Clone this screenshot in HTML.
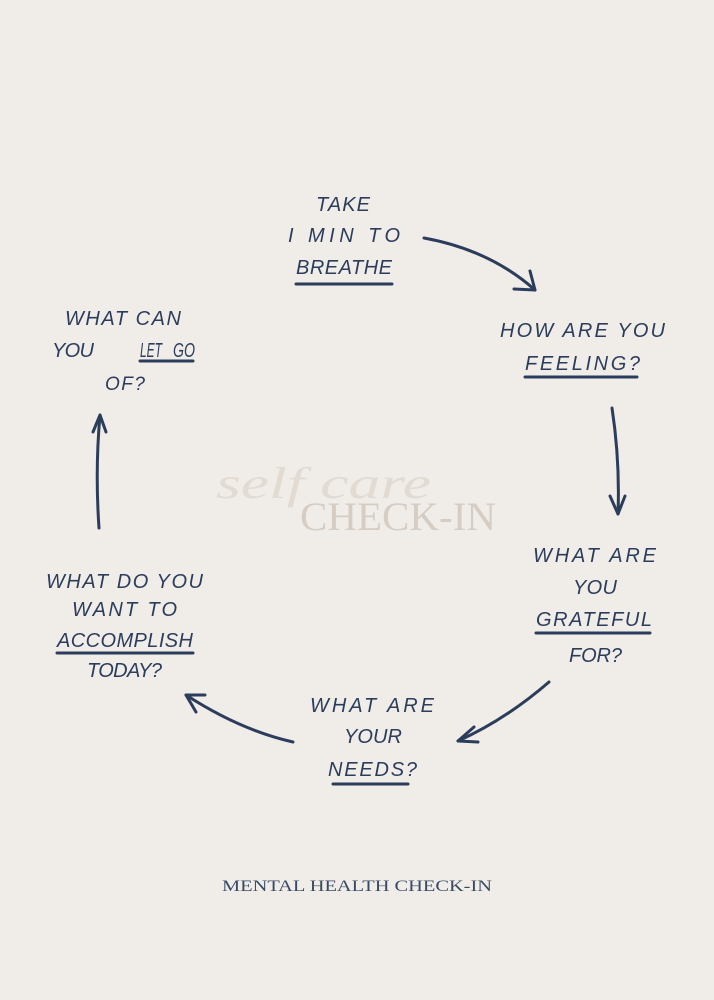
<!DOCTYPE html>
<html><head><meta charset="utf-8"><style>
html,body{margin:0;padding:0;background:#f0ede8;}
svg{display:block}
.t{font-family:"Liberation Sans",sans-serif;font-size:20px;fill:#2c3d5c;font-style:italic;}
</style></head><body>
<svg width="714" height="1000" viewBox="0 0 714 1000" xmlns="http://www.w3.org/2000/svg">
<rect width="714" height="1000" fill="#f0ede8"/>
<text x="216" y="498" font-family="Liberation Serif,serif" font-style="italic" font-size="44" fill="#e2dbd3" textLength="215" lengthAdjust="spacingAndGlyphs">self care</text>
<text x="300" y="530" font-family="Liberation Serif,serif" font-size="40" fill="#d5cdc4" textLength="196" lengthAdjust="spacingAndGlyphs">CHECK-IN</text>
<g class="t">
<text x="316" y="211" textLength="54">TAKE</text>
<text x="288" y="242" textLength="112">I MIN TO</text>
<text x="296" y="274" textLength="96">BREATHE</text>
<text x="500" y="337" textLength="165">HOW ARE YOU</text>
<text x="525" y="370" textLength="115">FEELING?</text>
<text x="533" y="562" textLength="123">WHAT ARE</text>
<text x="573" y="594" textLength="44">YOU</text>
<text x="536" y="626" textLength="116">GRATEFUL</text>
<text x="569" y="662" textLength="53">FOR?</text>
<text x="310" y="712" textLength="124">WHAT ARE</text>
<text x="344" y="743" textLength="58">YOUR</text>
<text x="328" y="776" textLength="89">NEEDS?</text>
<text x="46" y="588" textLength="157">WHAT DO YOU</text>
<text x="72" y="616" textLength="105">WANT TO</text>
<text x="57" y="647" textLength="136">ACCOMPLISH</text>
<text x="87" y="677" textLength="75">TODAY?</text>
<text x="65" y="325" textLength="116">WHAT CAN</text>
<text x="52" y="357" textLength="42">YOU</text>
<text x="140" y="357" textLength="22" lengthAdjust="spacingAndGlyphs">LET</text>
<text x="173" y="357" textLength="22" lengthAdjust="spacingAndGlyphs">GO</text>
<text x="105" y="390" font-size="19" letter-spacing="1.5">OF?</text>
</g>
<g stroke="#2c3d5c" stroke-width="3" fill="none" stroke-linecap="round" stroke-linejoin="round">
<path d="M296 284 L392 284"/>
<path d="M525 377 L637 377"/>
<path d="M536 633 L650 633"/>
<path d="M333 784 L408 784"/>
<path d="M57 653 L193 653"/>
<path d="M140 361 L193 361"/>
<path d="M424 238 Q490 250 535 290"/><path d="M514 289 L535 290 L530 271"/>
<path d="M612 408 Q620 460 618 514"/><path d="M610 496 L618 514 L625 496"/>
<path d="M549 682 Q505 720 458 741"/><path d="M474 727 L458 741 L478 742"/>
<path d="M293 742 Q240 730 186 695"/><path d="M205 695 L186 695 L196 712"/>
<path d="M99 528 Q95 470 100 415"/><path d="M93 432 L100 415 L106 432"/>
</g>
<text x="357" y="891" text-anchor="middle" font-family="Liberation Serif,serif" font-size="16" fill="#3a4a66" textLength="270" lengthAdjust="spacingAndGlyphs">MENTAL HEALTH CHECK-IN</text>
</svg>
</body></html>
